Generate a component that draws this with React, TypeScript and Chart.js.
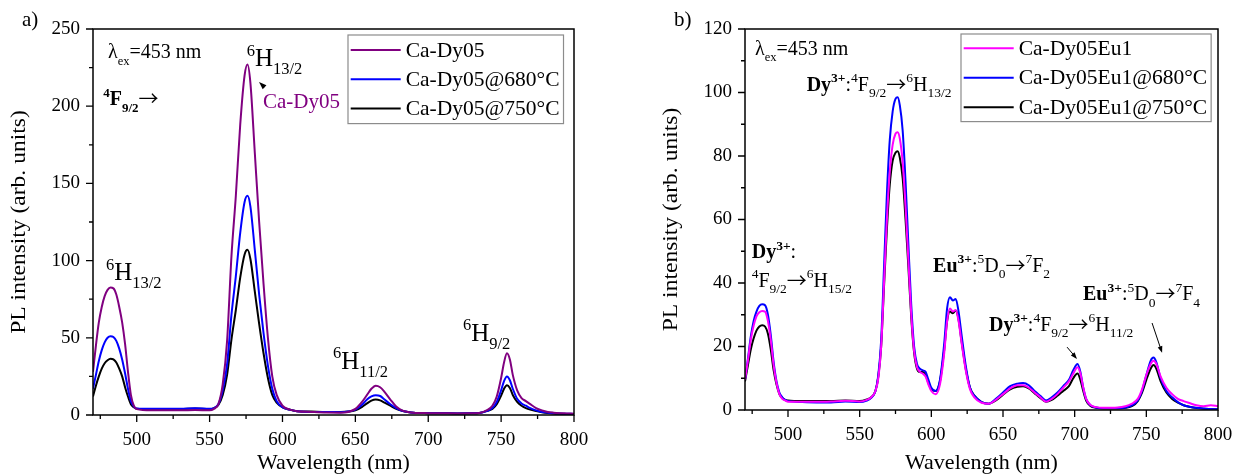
import React, { useEffect, useRef } from 'react';
import { Chart, registerables } from 'chart.js';

Chart.register(...registerables);

const SERIF = "'Liberation Serif', 'Times New Roman', Times, serif";
const ARROW_FONT = "'Noto Sans CJK SC', 'DejaVu Sans', sans-serif";

// ---------- Panel a: Ca-Dy05 series ----------
const WL_A = [
  470, 472, 474, 476, 478, 480, 482, 484, 486, 488, 490, 492, 494, 496, 498, 500,
  510, 520, 530, 540, 550,
  553, 556, 559, 562, 565, 568, 571, 574, 576, 578, 581, 584, 587, 590, 593, 596,
  600, 605, 610, 620, 630, 640,
  645, 650, 655, 658, 661, 664, 667, 670, 674, 678, 682, 686, 690,
  700, 710, 720, 730, 735, 740, 744, 747, 750, 752, 754, 756, 758, 761, 764, 767, 770, 774, 778, 782, 786, 790, 795, 800,
];
const CA_DY05 = [
  28, 45, 60, 70, 77, 81, 82.5, 82, 78, 70, 60, 46, 28, 13, 6, 3.8,
  3, 3, 3, 3.3, 3,
  4, 7, 20, 48, 103, 142, 188, 220, 227, 215, 170, 125, 85, 50, 25, 13,
  6, 3.5, 2.5, 2, 1.6, 1.5,
  2, 4, 9, 13, 17, 19, 18, 15, 10, 5.5, 3, 2, 1.5,
  1.2, 1.1, 1, 1.1, 1.3, 3, 6, 12, 24, 34, 40, 36, 26, 16, 11, 9, 7, 4.5, 3, 2, 1.5, 1.2, 1, 0.8,
];
const CA_DY05_680 = [
  17, 26, 35, 42, 47, 50, 51, 50.5, 48, 43, 36, 27, 17, 9, 5.5, 4.2,
  4, 4, 4, 4.3, 4,
  4.5, 7, 16, 33, 65, 90, 118, 138, 142, 135, 107, 78, 53, 32, 17, 9,
  5, 3.5, 2.5, 2, 2, 1.8,
  2.2, 3.5, 7, 10, 12, 12.8, 12.3, 10, 7, 4.5, 2.8, 2, 1.5,
  1.2, 1.1, 1, 1.1, 1.3, 2.5, 4.5, 8.5, 16, 22, 25, 22.5, 17, 10.5, 7.5, 6, 4.5, 3, 2, 1.5, 1.2, 1, 0.8, 0.7,
];
const CA_DY05_750 = [
  12, 19, 25, 30, 33.5, 35.5, 36.5, 36, 34, 30, 25, 18, 12, 7, 5, 4,
  3.8, 3.8, 3.8, 4.2, 3.8,
  4.5, 6.5, 13, 26, 49, 68, 89, 104, 107, 101, 80, 59, 40, 24, 13, 8,
  5, 3.5, 2.5, 2.2, 2, 2,
  2.2, 3, 5.5, 7.5, 9.3, 10, 9.5, 8, 6, 4, 2.8, 2, 1.5,
  1.2, 1.1, 1, 1.1, 1.3, 2.5, 4, 7, 12.5, 17, 19.3, 17.5, 13, 8.5, 6, 4.5, 3.5, 2.5, 1.8, 1.3, 1, 0.8, 0.6, 0.5,
];

// ---------- Panel b: Ca-Dy05Eu1 series ----------
const WL_B = [
  470, 472, 474, 476, 478, 480, 482, 484, 486, 488, 490, 492, 494, 496, 498, 500,
  510, 520, 530, 540, 550,
  555, 558, 561, 563, 565, 567, 569, 571, 573, 575, 576.5, 578,
  580, 582, 584, 586, 588, 590, 592, 594, 596, 598,
  600, 603, 606, 609, 611, 613, 615, 617, 619, 621, 624, 627, 630,
  635, 640, 645, 650, 655, 660, 664, 668, 672, 676, 680, 684, 688, 692, 696, 699, 702, 704, 706, 708, 711, 715, 720, 730,
  740, 744, 747, 750, 753, 755, 757, 760, 764, 768, 772, 776, 780, 785, 790, 795, 800,
];
const CA_DY05EU1 = [
  9.5, 15.5, 22, 26.5, 29.5, 30.8, 31.2, 31, 28, 22, 14, 8.5, 5, 3.5, 3, 2.6,
  2.6, 2.6, 2.7, 2.9, 2.7,
  3.2, 4, 6, 10, 20, 40, 60, 75, 83.5, 87, 87.5, 85.5,
  78, 64, 47, 30, 18.5, 13.5, 12, 11.5, 10.5, 8,
  6, 5, 8, 18, 28, 32, 31, 31.5, 28, 21.5, 12.5, 6.5, 4,
  2.3, 2, 3.2, 5, 6.8, 7.8, 7.8, 7, 5.5, 4, 2.6, 3.5, 5, 7, 9, 11.5, 13.5, 11.5, 7, 3.5, 1.6, 0.9, 0.7, 0.8,
  2, 3.5, 6.5, 11, 14.5, 15.5, 14.5, 10.5, 7, 5, 3.5, 2.8, 2.2, 1.5, 1.2, 1.5, 1.2,
];
const CA_DY05EU1_680 = [
  9.5, 16, 23, 28, 31, 32.8, 33.3, 33, 30, 23.5, 15, 9, 5.5, 4, 3.2, 2.8,
  2.5, 2.4, 2.4, 2.7, 2.5,
  3, 3.8, 6, 11, 22, 45, 68, 85, 94, 98, 98.5, 96,
  88, 72, 52, 33, 20, 14.5, 13, 12.5, 12, 9.5,
  7, 6, 9.5, 21, 32, 35.5, 34.5, 35, 31, 24, 14, 7, 4.5,
  2.5, 2, 3.5, 5.5, 7.5, 8.3, 8.5, 7.8, 6, 4.5, 3, 4, 5.5, 7.5, 9.5, 12.5, 14.5, 12, 7, 3.5, 1.5, 0.8, 0.6, 0.6,
  1.5, 3, 6, 11, 15.5, 16.5, 15, 10, 6, 4, 2.5, 1.5, 1, 0.7, 0.5, 0.3, 0.2,
];
const CA_DY05EU1_750 = [
  9, 14, 19, 22.5, 25, 26.3, 26.7, 26.3, 24, 19, 12.5, 8, 5, 3.8, 3.2, 3,
  2.8, 2.8, 2.8, 3, 2.8,
  3.3, 4, 6, 10.5, 20, 39, 57, 71, 78.5, 81, 81.5, 79.5,
  73, 60, 45, 29, 18, 13, 12, 12, 11, 8.5,
  6.5, 6, 9, 19, 28, 31, 30.5, 31.3, 28.5, 22, 13, 7, 4.5,
  2.5, 2, 3, 4.8, 6.5, 7.3, 7.5, 6.8, 5.3, 3.8, 2.6, 3.2, 4.5, 6, 7.5, 10, 11.5, 9.5, 6, 3, 1.3, 0.7, 0.5, 0.5,
  1.2, 2.8, 5.5, 9.5, 13, 14.2, 13, 9, 5.5, 3.5, 2.3, 1.5, 1, 0.6, 0.4, 0.3, 0.2,
];

// ---------- Axis ticks ----------
const X_TICKS = [475, 500, 525, 550, 575, 600, 625, 650, 675, 700, 725, 750, 775, 800];
const X_LABELS = [500, 550, 600, 650, 700, 750, 800];
const Y_TICKS_A = [0, 25, 50, 75, 100, 125, 150, 175, 200, 225, 250];
const Y_LABELS_A = [0, 50, 100, 150, 200, 250];
const Y_TICKS_B = [0, 10, 20, 30, 40, 50, 60, 70, 80, 90, 100, 110, 120];
const Y_LABELS_B = [0, 20, 40, 60, 80, 100, 120];

const X_TITLE = 'Wavelength (nm)';
const Y_TITLE = 'PL intensity (arb. units)';

type Seg = { t: string; s?: 'sup' | 'sub'; b?: boolean; a?: boolean };
type Note = { x: number; y: number; segs: Seg[]; size: number; small: number; color?: string };
type Pointer = { from: [number, number]; to: [number, number]; head: number };

const ARROW: Seg = { t: '→', a: true };
const LAMBDA: Seg[] = [{ t: 'λ' }, { t: 'ex', s: 'sub' }, { t: '=453 nm' }];
const term = (mult: string, letter: string, j: string): Seg[] => [
  { t: mult, s: 'sup' },
  { t: letter },
  { t: j, s: 'sub' },
];
const ion = (name: string): Seg[] => [{ t: name, b: true }, { t: '3+', s: 'sup', b: true }, { t: ':' }];

const NOTES_A: Note[] = [
  { x: 480.3, y: 231, segs: LAMBDA, size: 20, small: 12.5 },
  {
    x: 477,
    y: 200.5,
    segs: [{ t: '4', s: 'sup', b: true }, { t: 'F', b: true }, { t: '9/2', s: 'sub', b: true }, ARROW],
    size: 20,
    small: 13,
  },
  { x: 575.4, y: 226, segs: term('6', 'H', '13/2'), size: 25, small: 16.5 },
  { x: 586.6, y: 198.6, segs: [{ t: 'Ca-Dy05' }], size: 21, small: 14, color: '#800080' },
  { x: 478.9, y: 87.3, segs: term('6', 'H', '13/2'), size: 25, small: 16.5 },
  { x: 634.7, y: 30.1, segs: term('6', 'H', '11/2'), size: 25, small: 16.5 },
  { x: 723.8, y: 48, segs: term('6', 'H', '9/2'), size: 25, small: 16.5 },
];
const POINTERS_A: Pointer[] = [{ from: [587.5, 212.5], to: [583.9, 215.6], head: 8 }];

const NOTES_B: Note[] = [
  { x: 477, y: 111.8, segs: LAMBDA, size: 20, small: 12.5 },
  {
    x: 513,
    y: 100.6,
    segs: [...ion('Dy'), ...term('4', 'F', '9/2'), ARROW, ...term('6', 'H', '13/2')],
    size: 20,
    small: 13.5,
  },
  { x: 474.7, y: 47.8, segs: ion('Dy'), size: 20, small: 13.5 },
  {
    x: 474.7,
    y: 38.8,
    segs: [...term('4', 'F', '9/2'), ARROW, ...term('6', 'H', '15/2')],
    size: 20,
    small: 13.5,
  },
  {
    x: 601.2,
    y: 43.5,
    segs: [...ion('Eu'), ...term('5', 'D', '0'), ARROW, ...term('7', 'F', '2')],
    size: 20,
    small: 13.5,
  },
  {
    x: 705.8,
    y: 34.6,
    segs: [...ion('Eu'), ...term('5', 'D', '0'), ARROW, ...term('7', 'F', '4')],
    size: 20,
    small: 13.5,
  },
  {
    x: 640.2,
    y: 25,
    segs: [...ion('Dy'), ...term('4', 'F', '9/2'), ARROW, ...term('6', 'H', '11/2')],
    size: 20,
    small: 13.5,
  },
];
const POINTERS_B: Pointer[] = [
  { from: [694.7, 19.8], to: [701.6, 16.1], head: 7 },
  { from: [754, 27.4], to: [761, 18], head: 7 },
];

function drawRich(ctx: CanvasRenderingContext2D, note: Note, x: number, y: number) {
  let cx = x;
  ctx.fillStyle = note.color || '#000';
  ctx.textBaseline = 'alphabetic';
  ctx.textAlign = 'left';
  for (const g of note.segs) {
    if (g.a) {
      ctx.font = `${note.size}px ${ARROW_FONT}`;
      ctx.fillText(g.t, cx, y + note.size * 0.05);
      cx += ctx.measureText(g.t).width;
      continue;
    }
    const fs = g.s ? note.small : note.size;
    ctx.font = `${g.b ? 'bold ' : ''}${fs}px ${SERIF}`;
    const dy = g.s === 'sup' ? -note.size * 0.42 : g.s === 'sub' ? note.size * 0.32 : 0;
    ctx.fillText(g.t, cx, y + dy);
    cx += ctx.measureText(g.t).width;
  }
}

type PanelSpec = {
  left: number;
  width: number;
  padRight: number;
  xAxisHeight: number;
  yMax: number;
  yTicks: number[];
  yLabels: number[];
  panel: string;
  legendDx: number;
  legendDy: number;
  legendRow: number;
  legendFirst: number;
  notes: Note[];
  pointers: Pointer[];
  wl: number[];
  series: { label: string; color: string; values: number[] }[];
};

const PANEL_A: PanelSpec = {
  left: 0,
  width: 617,
  padRight: 43,
  xAxisHeight: 61,
  yMax: 250,
  yTicks: Y_TICKS_A,
  yLabels: Y_LABELS_A,
  panel: 'a)',
  legendDx: 255,
  legendDy: 6,
  legendRow: 29.3,
  legendFirst: 15,
  notes: NOTES_A,
  pointers: POINTERS_A,
  wl: WL_A,
  series: [
    { label: 'Ca-Dy05', color: '#800080', values: CA_DY05 },
    { label: 'Ca-Dy05@680°C', color: '#0000ff', values: CA_DY05_680 },
    { label: 'Ca-Dy05@750°C', color: '#000000', values: CA_DY05_750 },
  ],
};

const PANEL_B: PanelSpec = {
  left: 652,
  width: 582,
  padRight: 16,
  xAxisHeight: 66,
  yMax: 120,
  yTicks: Y_TICKS_B,
  yLabels: Y_LABELS_B,
  panel: 'b)',
  legendDx: 216,
  legendDy: 5,
  legendRow: 29.5,
  legendFirst: 14.3,
  notes: NOTES_B,
  pointers: POINTERS_B,
  wl: WL_B,
  series: [
    { label: 'Ca-Dy05Eu1', color: '#ff00ff', values: CA_DY05EU1 },
    { label: 'Ca-Dy05Eu1@680°C', color: '#0000ff', values: CA_DY05EU1_680 },
    { label: 'Ca-Dy05Eu1@750°C', color: '#000000', values: CA_DY05EU1_750 },
  ],
};

function Panel({ spec }: { spec: PanelSpec }) {
  const ref = useRef<HTMLCanvasElement>(null);

  useEffect(() => {
    const canvas = ref.current;
    if (!canvas) return;

    const decor = {
      id: 'decor',
      afterDraw(chart: any) {
        const ctx: CanvasRenderingContext2D = chart.ctx;
        const { left, right, top, bottom } = chart.chartArea;
        const xs = chart.scales.x;
        const ys = chart.scales.y;
        ctx.save();

        // frame
        ctx.strokeStyle = '#000';
        ctx.lineWidth = 1.5;
        ctx.strokeRect(left, top, right - left, bottom - top);

        // outward tick marks
        ctx.lineWidth = 1.3;
        ctx.beginPath();
        for (const t of xs.ticks) {
          const px = xs.getPixelForValue(t.value);
          const len = X_LABELS.includes(t.value) ? 7 : 4;
          ctx.moveTo(px, bottom);
          ctx.lineTo(px, bottom + len);
        }
        for (const t of ys.ticks) {
          const py = ys.getPixelForValue(t.value);
          const len = spec.yLabels.includes(t.value) ? 7 : 4;
          ctx.moveTo(left, py);
          ctx.lineTo(left - len, py);
        }
        ctx.stroke();

        // vertical axis title, slightly stretched along its length
        ctx.save();
        ctx.translate(left - 74, (top + bottom) / 2);
        ctx.rotate(-Math.PI / 2);
        ctx.scale(1.12, 1);
        ctx.fillStyle = '#000';
        ctx.font = `21px ${SERIF}`;
        ctx.textAlign = 'center';
        ctx.textBaseline = 'middle';
        ctx.fillText(Y_TITLE, 0, 0);
        ctx.restore();

        // panel letter
        ctx.fillStyle = '#000';
        ctx.font = `21px ${SERIF}`;
        ctx.textAlign = 'left';
        ctx.textBaseline = 'alphabetic';
        ctx.fillText(spec.panel, left - 71, top - 3);

        // legend
        ctx.font = `21.5px ${SERIF}`;
        const ds = chart.data.datasets;
        let tw = 0;
        for (const d of ds) tw = Math.max(tw, ctx.measureText(d.label).width);
        const bx = left + spec.legendDx;
        const by = top + spec.legendDy;
        const bw = 2.7 + 50 + 5 + tw + 4;
        const bh = spec.legendFirst * 2 + spec.legendRow * (ds.length - 1);
        ctx.fillStyle = '#fff';
        ctx.fillRect(bx, by, bw, bh);
        ctx.strokeStyle = '#8c8c8c';
        ctx.lineWidth = 1.2;
        ctx.strokeRect(bx, by, bw, bh);
        ds.forEach((d: any, i: number) => {
          const ry = by + spec.legendFirst + i * spec.legendRow;
          ctx.strokeStyle = d.borderColor;
          ctx.lineWidth = 2;
          ctx.beginPath();
          ctx.moveTo(bx + 2.7, ry);
          ctx.lineTo(bx + 52.7, ry);
          ctx.stroke();
          ctx.fillStyle = '#000';
          ctx.textBaseline = 'middle';
          ctx.fillText(d.label, bx + 57.7, ry + 1);
        });

        // annotations
        for (const n of spec.notes) {
          drawRich(ctx, n, xs.getPixelForValue(n.x), ys.getPixelForValue(n.y));
        }

        // pointer arrows
        for (const p of spec.pointers) {
          const x1 = xs.getPixelForValue(p.from[0]);
          const y1 = ys.getPixelForValue(p.from[1]);
          const x2 = xs.getPixelForValue(p.to[0]);
          const y2 = ys.getPixelForValue(p.to[1]);
          const a = Math.atan2(y2 - y1, x2 - x1);
          ctx.strokeStyle = '#000';
          ctx.fillStyle = '#000';
          ctx.lineWidth = 1;
          ctx.beginPath();
          ctx.moveTo(x1, y1);
          ctx.lineTo(x2 - Math.cos(a) * p.head * 0.6, y2 - Math.sin(a) * p.head * 0.6);
          ctx.stroke();
          ctx.beginPath();
          ctx.moveTo(x2, y2);
          ctx.lineTo(x2 - p.head * Math.cos(a - 0.35), y2 - p.head * Math.sin(a - 0.35));
          ctx.lineTo(x2 - p.head * Math.cos(a + 0.35), y2 - p.head * Math.sin(a + 0.35));
          ctx.closePath();
          ctx.fill();
        }
        ctx.restore();
      },
    };

    const tickFont = { family: SERIF, size: 19 };

    const chart = new Chart(canvas, {
      type: 'line',
      data: {
        datasets: spec.series.map((s) => ({
          label: s.label,
          data: spec.wl.map((x, i) => ({ x, y: s.values[i] })),
          borderColor: s.color,
          backgroundColor: s.color,
          borderWidth: 2,
          pointRadius: 0,
          cubicInterpolationMode: 'monotone' as const,
          fill: false,
        })),
      },
      options: {
        responsive: false,
        animation: false,
        devicePixelRatio: 1,
        events: [],
        layout: { padding: { top: 29, right: spec.padRight, left: 0, bottom: 0 } },
        plugins: { legend: { display: false }, tooltip: { enabled: false } },
        scales: {
          x: {
            type: 'linear',
            min: 470,
            max: 800,
            afterBuildTicks: (s: any) => {
              s.ticks = X_TICKS.map((v) => ({ value: v }));
            },
            afterFit: (s: any) => {
              s.height = spec.xAxisHeight;
              s.paddingLeft = 0;
              s.paddingRight = 0;
            },
            grid: { display: false, drawTicks: false },
            border: { display: false },
            ticks: {
              autoSkip: false,
              maxRotation: 0,
              padding: 14,
              color: '#000',
              font: tickFont,
              callback: (v: any) => (X_LABELS.includes(Number(v)) ? String(v) : ''),
            },
            title: {
              display: true,
              text: X_TITLE,
              color: '#000',
              font: { family: SERIF, size: 22 },
              padding: { top: 0, bottom: 0 },
            },
          },
          y: {
            type: 'linear',
            min: 0,
            max: spec.yMax,
            afterBuildTicks: (s: any) => {
              s.ticks = spec.yTicks.map((v) => ({ value: v }));
            },
            afterFit: (s: any) => {
              s.width = 93;
              s.paddingTop = 0;
              s.paddingBottom = 0;
            },
            grid: { display: false, drawTicks: false },
            border: { display: false },
            ticks: {
              autoSkip: false,
              padding: 13,
              color: '#000',
              font: tickFont,
              callback: (v: any) => (spec.yLabels.includes(Number(v)) ? String(v) : ''),
            },
            title: { display: false },
          },
        },
      },
      plugins: [decor],
    } as any);

    return () => chart.destroy();
  }, [spec]);

  return (
    <canvas
      ref={ref}
      width={spec.width}
      height={476}
      style={{ position: 'absolute', left: spec.left, top: 0, width: spec.width, height: 476 }}
    />
  );
}

export default function App() {
  return (
    <div style={{ position: 'fixed', left: 0, top: 0, width: 1234, height: 476, background: '#fff' }}>
      <Panel spec={PANEL_A} />
      <Panel spec={PANEL_B} />
    </div>
  );
}
